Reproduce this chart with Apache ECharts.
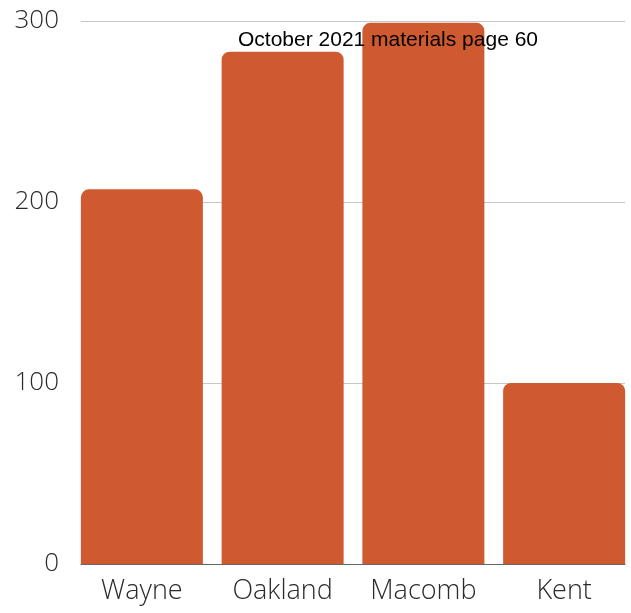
<!DOCTYPE html>
<html>
<head>
<meta charset="utf-8">
<script src="https://cdn.jsdelivr.net/npm/echarts@6/dist/echarts.min.js"></script>
<style>html,body{margin:0;padding:0;background:#fff}#c{width:631px;height:613px}</style>
</head>
<body>
<div id="c"></div>
<script>
const categories = ['Wayne', 'Oakland', 'Macomb', 'Kent'];
const values = [207, 283, 299, 100];
const yTicks = [0, 100, 200, 300];
const titleText = 'October 2021 materials page 60';

const chart = echarts.init(document.getElementById('c'), null, {renderer: 'canvas'});
const lightFont = "'Open Sans', 'DejaVu Sans', sans-serif";
chart.setOption({
  animation: false,
  title: {
    text: titleText,
    left: 233, top: 25,
    textStyle: {fontFamily: "'Liberation Sans', Arial, sans-serif", fontSize: 21, fontWeight: 'normal', color: '#000'}
  },
  grid: [
    {left: 81, right: 6, top: 21, bottom: 49, outerBoundsMode: 'none', containLabel: false},
    {left: 71.5, width: 563, top: 21, bottom: 49, outerBoundsMode: 'none', containLabel: false}
  ],
  xAxis: [
    {type: 'category', gridIndex: 0, data: categories, axisLine: {show: true, lineStyle: {color: '#666', width: 1}}, axisTick: {show: false}, axisLabel: {show: false}},
    {type: 'category', gridIndex: 1, data: categories, axisLine: {show: false}, axisTick: {show: false},
     axisLabel: {fontFamily: lightFont, fontWeight: 300, fontSize: 27, color: '#2a2a2a', margin: 14}}
  ],
  yAxis: [
    {type: 'value', gridIndex: 0, min: yTicks[0], max: yTicks[yTicks.length - 1], interval: yTicks[1] - yTicks[0],
     axisLine: {show: false}, axisTick: {show: false},
     splitLine: {lineStyle: {color: '#c6c6c6', width: 1}},
     axisLabel: {fontFamily: lightFont, fontWeight: 300, fontSize: 26, color: '#2a2a2a', margin: 22}},
    {type: 'value', gridIndex: 1, min: yTicks[0], max: yTicks[yTicks.length - 1], show: false, splitLine: {show: false}}
  ],
  series: [{
    type: 'bar', xAxisIndex: 1, yAxisIndex: 1, data: values,
    barWidth: 122,
    itemStyle: {color: '#cf5a30', borderRadius: [8, 8, 0, 0]}
  }]
});
</script>
</body>
</html>
